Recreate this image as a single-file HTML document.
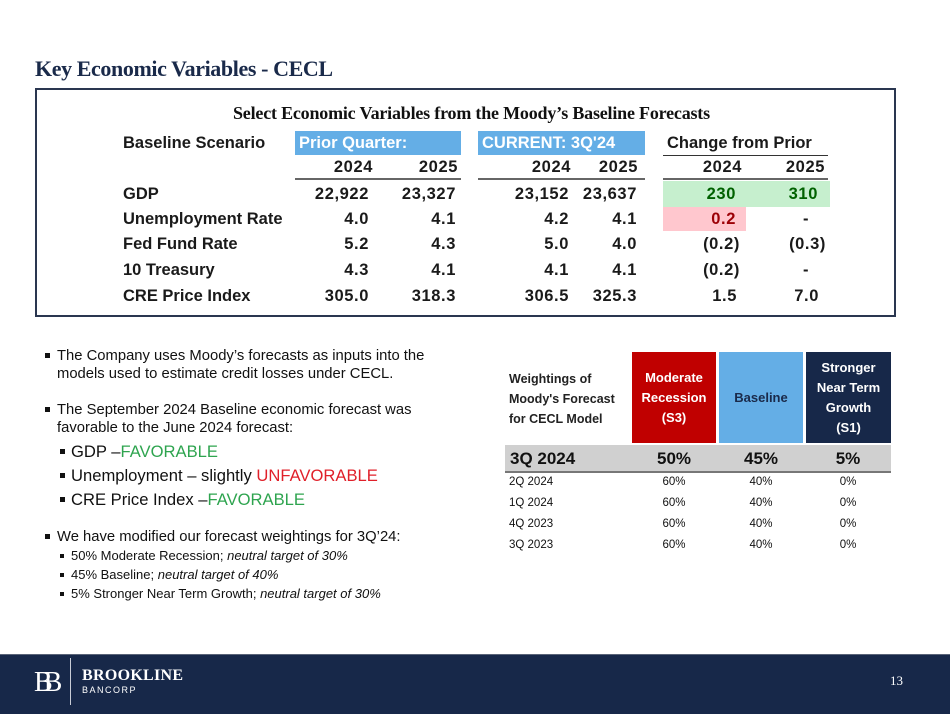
<!DOCTYPE html>
<html><head><meta charset="utf-8"><style>
body{margin:0;width:950px;height:713px;position:relative;background:#fff;overflow:hidden;font-family:"Liberation Sans",sans-serif;color:#111}
.a{position:absolute;white-space:nowrap}
.n{font-size:16.5px;line-height:20px;font-weight:bold;color:#1a1a1a}
.r{text-align:right;width:120px;letter-spacing:0.6px}
.b{font-size:14.8px;line-height:18px}
.sq{position:absolute;width:5px;height:5px;background:#111}
.s{font-size:11.5px;line-height:14px}
.hd{position:absolute;color:#fff;font-weight:bold;font-size:13px;line-height:20px;text-align:center;display:flex;align-items:center;justify-content:center}
</style></head><body>
<div class="a" style="left:35px;top:56px;font-family:'Liberation Serif',serif;font-weight:bold;font-size:22px;color:#1a2a4a;letter-spacing:-0.4px">Key Economic Variables - CECL</div>
<div class="a" style="left:35px;top:88px;width:857px;height:225px;border:2px solid #2a3650"></div>
<div class="a" style="left:233px;top:103px;font-family:'Liberation Serif',serif;font-weight:bold;font-size:18px;letter-spacing:-0.2px">Select Economic Variables from the Moody’s Baseline Forecasts</div>

<div class="a" style="left:295px;top:131px;width:166px;height:24px;background:#64aee6"></div>
<div class="a" style="left:478px;top:131px;width:167px;height:24px;background:#64aee6"></div>
<div class="a" style="left:663px;top:155px;width:165px;height:1px;background:#333"></div>
<div class="a" style="left:295px;top:178px;width:166px;height:2px;background:#666"></div>
<div class="a" style="left:478px;top:178px;width:167px;height:2px;background:#666"></div>
<div class="a" style="left:663px;top:178px;width:165px;height:2px;background:#666"></div>
<div class="a" style="left:663px;top:181px;width:167px;height:26px;background:#c6efce"></div>
<div class="a" style="left:663px;top:207px;width:83px;height:24px;background:#ffc7ce"></div>

<div class="a n" style="left:123px;top:133px">Baseline Scenario</div>
<div class="a n" style="left:299px;top:133px;color:#fff">Prior Quarter:</div>
<div class="a n" style="left:482px;top:133px;color:#fff">CURRENT: 3Q'24</div>
<div class="a n" style="left:667px;top:133px">Change from Prior</div>

<div class="a n r" style="left:253px;top:157px">2024</div>
<div class="a n r" style="left:338px;top:157px">2025</div>
<div class="a n r" style="left:451px;top:157px">2024</div>
<div class="a n r" style="left:518px;top:157px">2025</div>
<div class="a n r" style="left:622px;top:157px">2024</div>
<div class="a n r" style="left:705px;top:157px">2025</div>

<div class="a n" style="left:123px;top:184px">GDP</div>
<div class="a n r" style="left:249px;top:184px">22,922</div>
<div class="a n r" style="left:336px;top:184px">23,327</div>
<div class="a n r" style="left:449px;top:184px">23,152</div>
<div class="a n r" style="left:517px;top:184px">23,637</div>
<div class="a n r" style="left:616px;top:184px;color:#006100">230</div>
<div class="a n r" style="left:698px;top:184px;color:#006100">310</div>

<div class="a n" style="left:123px;top:209px">Unemployment Rate</div>
<div class="a n r" style="left:249px;top:209px">4.0</div>
<div class="a n r" style="left:336px;top:209px">4.1</div>
<div class="a n r" style="left:449px;top:209px">4.2</div>
<div class="a n r" style="left:517px;top:209px">4.1</div>
<div class="a n r" style="left:616px;top:209px;color:#9c0006">0.2</div>
<div class="a n" style="left:803px;top:209px">-</div>

<div class="a n" style="left:123px;top:234px">Fed Fund Rate</div>
<div class="a n r" style="left:249px;top:234px">5.2</div>
<div class="a n r" style="left:336px;top:234px">4.3</div>
<div class="a n r" style="left:449px;top:234px">5.0</div>
<div class="a n r" style="left:517px;top:234px">4.0</div>
<div class="a n r" style="left:620px;top:234px">(0.2)</div>
<div class="a n r" style="left:706px;top:234px">(0.3)</div>

<div class="a n" style="left:123px;top:260px">10 Treasury</div>
<div class="a n r" style="left:249px;top:260px">4.3</div>
<div class="a n r" style="left:336px;top:260px">4.1</div>
<div class="a n r" style="left:449px;top:260px">4.1</div>
<div class="a n r" style="left:517px;top:260px">4.1</div>
<div class="a n r" style="left:620px;top:260px">(0.2)</div>
<div class="a n" style="left:803px;top:260px">-</div>

<div class="a n" style="left:123px;top:286px">CRE Price Index</div>
<div class="a n r" style="left:249px;top:286px">305.0</div>
<div class="a n r" style="left:336px;top:286px">318.3</div>
<div class="a n r" style="left:449px;top:286px">306.5</div>
<div class="a n r" style="left:517px;top:286px">325.3</div>
<div class="a n r" style="left:617px;top:286px">1.5</div>
<div class="a n r" style="left:699px;top:286px">7.0</div>

<!-- bullets -->
<div class="sq" style="left:45px;top:353px"></div>
<div class="a b" style="left:57px;top:347px">The Company uses Moody’s forecasts as inputs into the<br>models used to estimate credit losses under CECL.</div>
<div class="sq" style="left:45px;top:407px"></div>
<div class="a b" style="left:57px;top:401px">The September 2024 Baseline economic forecast was<br>favorable to the June 2024 forecast:</div>
<div class="sq" style="left:60px;top:449px"></div>
<div class="a" style="left:71px;top:442px;font-size:16.6px;line-height:20px">GDP –<span style="color:#2ea44f">FAVORABLE</span></div>
<div class="sq" style="left:60px;top:473px"></div>
<div class="a" style="left:71px;top:466px;font-size:16.6px;line-height:20px">Unemployment – slightly <span style="color:#e0202a">UNFAVORABLE</span></div>
<div class="sq" style="left:60px;top:497px"></div>
<div class="a" style="left:71px;top:490px;font-size:16.6px;line-height:20px">CRE Price Index –<span style="color:#2ea44f">FAVORABLE</span></div>
<div class="sq" style="left:45px;top:534px"></div>
<div class="a b" style="left:57px;top:528px">We have modified our forecast weightings for 3Q’24:</div>
<div class="sq" style="left:60px;top:554px;width:4px;height:4px"></div>
<div class="a" style="left:71px;top:548px;font-size:13px;line-height:16px">50% Moderate Recession; <i>neutral target of 30%</i></div>
<div class="sq" style="left:60px;top:573px;width:4px;height:4px"></div>
<div class="a" style="left:71px;top:567px;font-size:13px;line-height:16px">45% Baseline; <i>neutral target of 40%</i></div>
<div class="sq" style="left:60px;top:592px;width:4px;height:4px"></div>
<div class="a" style="left:71px;top:586px;font-size:13px;line-height:16px">5% Stronger Near Term Growth; <i>neutral target of 30%</i></div>

<!-- weightings table -->
<div class="a" style="left:509px;top:369px;font-size:12.5px;line-height:20px;font-weight:bold;color:#222">Weightings of<br>Moody's Forecast<br>for CECL Model</div>
<div class="hd" style="left:632px;top:352px;width:84px;height:91px;background:#c00000">Moderate<br>Recession<br>(S3)</div>
<div class="hd" style="left:719px;top:352px;width:84px;height:91px;background:#64aee6;color:#1a2a4a">Baseline</div>
<div class="hd" style="left:806px;top:352px;width:85px;height:91px;background:#172849">Stronger<br>Near Term<br>Growth<br>(S1)</div>
<div class="a" style="left:505px;top:445px;width:386px;height:26px;background:#d0d0d0;border-bottom:2px solid #777"></div>
<div class="a" style="left:510px;top:448px;font-size:17px;font-weight:bold;line-height:22px">3Q 2024</div>
<div class="a" style="left:634px;top:448px;width:80px;text-align:center;font-size:17px;font-weight:bold;line-height:22px">50%</div>
<div class="a" style="left:721px;top:448px;width:80px;text-align:center;font-size:17px;font-weight:bold;line-height:22px">45%</div>
<div class="a" style="left:808px;top:448px;width:80px;text-align:center;font-size:17px;font-weight:bold;line-height:22px">5%</div>

<div class="a s" style="left:509px;top:475px">2Q 2024</div>
<div class="a s" style="left:634px;top:475px;width:80px;text-align:center">60%</div>
<div class="a s" style="left:721px;top:475px;width:80px;text-align:center">40%</div>
<div class="a s" style="left:808px;top:475px;width:80px;text-align:center">0%</div>
<div class="a s" style="left:509px;top:496px">1Q 2024</div>
<div class="a s" style="left:634px;top:496px;width:80px;text-align:center">60%</div>
<div class="a s" style="left:721px;top:496px;width:80px;text-align:center">40%</div>
<div class="a s" style="left:808px;top:496px;width:80px;text-align:center">0%</div>
<div class="a s" style="left:509px;top:517px">4Q 2023</div>
<div class="a s" style="left:634px;top:517px;width:80px;text-align:center">60%</div>
<div class="a s" style="left:721px;top:517px;width:80px;text-align:center">40%</div>
<div class="a s" style="left:808px;top:517px;width:80px;text-align:center">0%</div>
<div class="a s" style="left:509px;top:538px">3Q 2023</div>
<div class="a s" style="left:634px;top:538px;width:80px;text-align:center">60%</div>
<div class="a s" style="left:721px;top:538px;width:80px;text-align:center">40%</div>
<div class="a s" style="left:808px;top:538px;width:80px;text-align:center">0%</div>

<!-- footer -->
<div class="a" style="left:0;top:654px;width:950px;height:59px;background:#172849;border-top:1px solid #5a6478"></div>
<div class="a" style="left:34px;top:668px;font-family:'Liberation Serif',serif;font-size:28px;line-height:30px;color:#fff;letter-spacing:-9px">BB</div>
<div class="a" style="left:70px;top:658px;width:1px;height:47px;background:#c8ccd6"></div>
<div class="a" style="left:82px;top:667px;font-family:'Liberation Serif',serif;font-size:16px;line-height:18px;color:#fff;font-weight:bold;letter-spacing:0.3px">BROOKLINE</div>
<div class="a" style="left:82px;top:685px;font-size:9px;line-height:10px;color:#fff;letter-spacing:1.5px">BANCORP</div>
<div class="a" style="left:890px;top:673px;font-family:'Liberation Serif',serif;font-size:13px;color:#fff">13</div>
</body></html>
